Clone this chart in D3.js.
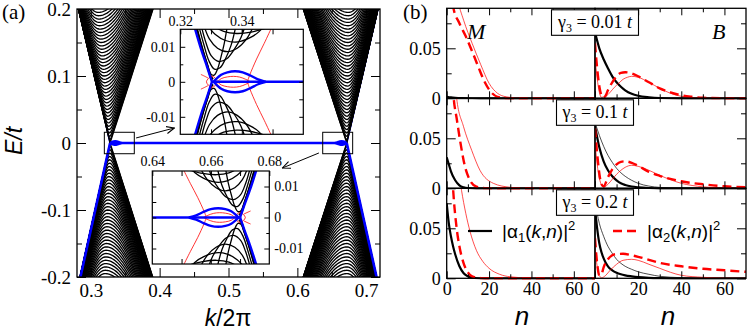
<!DOCTYPE html>
<html>
<head>
<meta charset="utf-8">
<script src="https://cdn.jsdelivr.net/npm/d3@7"></script>
<style>
  body { margin: 0; background: #fff; }
  svg { display: block; }
</style>
</head>
<body>
<svg id="fig" width="747" height="331"></svg>
<script>
// ---------------- panel (a) data ----------------
const kMajor = [0.3, 0.4, 0.5, 0.6, 0.7];
const kMinor = [0.35, 0.45, 0.55, 0.65];
const eMajor = [-0.2, -0.1, 0, 0.1, 0.2];
const eMinor = [-0.15, -0.05, 0.05, 0.15];

// |E| of the bulk sub-band extrema
const subbandE = [0.000, 0.005, 0.010, 0.015, 0.020, 0.025, 0.030, 0.035, 0.040, 0.045,
                  0.050, 0.055, 0.060, 0.065, 0.070, 0.075, 0.080, 0.085, 0.090, 0.095,
                  0.100, 0.105, 0.110, 0.115, 0.120, 0.125, 0.130, 0.135, 0.140, 0.145,
                  0.150, 0.155, 0.160, 0.165, 0.170, 0.175, 0.180, 0.185, 0.190, 0.195];
// four half-fans: upper-left, lower-left, upper-right, lower-right
const fanSide    = [1, -1, 1, -1];
const fanVertexK = [0.328, 0.328, 0.6717, 0.6717];
const fanOuterK  = [0.2855, 0.2850, 0.7170, 0.7150];
const fanInnerK  = [0.3904, 0.3899, 0.6086, 0.6086];
const fanLocusK  = [0.3105, 0.3207, 0.674, 0.672];

const zoomBoxK = [[0.3197, 0.3632], [0.6368, 0.6803]];
const zoomBoxE = [-0.016, 0.016];
const arrowFrom = [[0.3658, 0.0075], [0.6313, -0.0149]];
const arrowTo   = [[0.4214, 0.0224], [0.5783, -0.0373]];

// inset curves: [ (k-K)*1000 , E*1000 ], upper halves (lower halves mirrored)
const insetBands = [
  [[-5.0,16],[-3.2,10],[-1.5,5],[-0.3,2.2],[0.7,1.9],[1.8,3.6],[2.9,7],[4.0,11],[5.0,16]],
  [[-4.3,16],[-2.6,10.5],[-1.0,6],[0.8,3.6],[2.6,4.0],[4.4,6.6],[6.2,10.4],[7.8,16]],
  [[-3.5,16],[-1.9,11],[-0.2,7.4],[2.2,5.8],[4.8,6.6],[7.2,9.2],[9.4,12.6],[10.8,16]],
  [[-2.6,16],[-0.8,12.2],[1.8,9.6],[5,8.6],[8.2,9.6],[11.2,12.2],[13.6,16]],
  [[-1.4,16],[1.0,13.6],[4.4,11.8],[8.4,11.4],[12.4,12.6],[15.4,14.4],[16.8,16]],
  [[0.4,16],[3.8,14.4],[8,13.8],[12.8,14.2],[17,15.2],[19.6,16]]
];
const insetBandEdge = [[-5.3,16],[-3.3,9.6],[-1.5,4.6],[-0.5,1.7],[0.3,0.7]];
const insetBlueBranch = [[-5.8,16],[-3.5,9.2],[-1.6,4.3],[-0.5,1.3],[0,0]];
const insetBlueEye = [[0.5,0],[1.5,0.9],[3,2.0],[5,2.7],[7.5,3.0],[10,2.7],[12.5,1.8],[15,0.7],[17.5,0]];
const insetRedRing = [[-1.8,0],[0,1.6],[1.8,0],[0,-1.6]];
const insetRedStub = [[-1.3,1.1],[-2.4,1.6],[-3.6,2.1]];
const insetRedEye = [[1.8,0],[3,0.9],[5,1.4],[7,1.55],[9,1.35],[11,0.7],[12.5,0]];
const insetRedArm = [[11.5,0],[12.3,2],[14.5,6.5],[17,11],[19.4,15.5]];

// ---------------- panel (b) data ----------------
const nMajor = [0, 20, 40, 60], nMinor = [10, 30, 50];
const gammaLabels = ['0.01', '0.1', '0.2'];
// [n, |alpha|^2]; M = left column, B = right column; r1..r3 = gamma3 rows
const M_a1_r1 = [[0,0.0016],[2,0.0009],[4,0.0005],[7,0.0002],[12,0.00005],[20,0],[70,0]];
const M_a2_r1 = [[0,0.15],[1.5,0.115],[3,0.092],[6,0.075],[9,0.062],[12,0.047],[15,0.031],[18,0.016],[21,0.006],[24,0.0015],[28,0.0002],[35,0],[70,0]];
const M_a2t_r1 = [[2,0.14],[5,0.1],[8,0.078],[12,0.055],[16,0.034],[20,0.015],[24,0.005],[28,0.0015],[34,0.0002],[40,0],[70,0]];
const B_a1_r1 = [[0,0.066],[2,0.05],[4,0.039],[6,0.03],[8,0.022],[10,0.016],[12,0.0115],[14,0.008],[17,0.0045],[20,0.0025],[25,0.001],[30,0.0003],[40,0],[70,0]];
const B_a2_r1 = [[0,0.055],[1,0.03],[2,0.012],[3,0.003],[4,0.0008],[5,0.003],[6,0.008],[8,0.016],[10,0.022],[12,0.0255],[14,0.026],[17,0.025],[20,0.022],[25,0.016],[30,0.01],[35,0.006],[40,0.003],[45,0.0015],[50,0.0006],[60,0.0001],[70,0]];
const B_a2t_r1 = [[0,0.04],[1,0.02],[2,0.006],[3,0.001],[5,0.002],[7,0.006],[9,0.011],[11,0.015],[13,0.019],[15,0.021],[17,0.022],[20,0.021],[25,0.016],[30,0.01],[35,0.005],[40,0.002],[50,0.0003],[70,0]];

const M_a1_r2 = [[0,0.031],[1,0.024],[2,0.017],[4,0.008],[6,0.003],[8,0.001],[10,0.0003],[14,0],[70,0]];
const M_a2_r2 = [[0,0.2],[2,0.13],[3.4,0.088],[4.7,0.07],[6.3,0.048],[8.6,0.022],[11,0.008],[14,0.0017],[18,0.0002],[25,0],[70,0]];
const M_a2t_r2 = [[3,0.13],[4.7,0.09],[7.9,0.062],[11.8,0.038],[15.7,0.018],[22,0.005],[30,0.001],[38,0],[70,0]];
const B_a1_r2 = [[0,0.062],[2,0.041],[4,0.027],[6,0.018],[8,0.012],[10,0.008],[12,0.005],[14,0.0033],[17,0.0018],[20,0.001],[25,0.0003],[30,0],[70,0]];
const B_a1t_r2 = [[0,0.066],[2,0.053],[4,0.042],[6,0.033],[8,0.026],[10,0.02],[12,0.0155],[14,0.012],[17,0.008],[20,0.005],[25,0.0022],[30,0.0009],[40,0.0001],[70,0]];
const B_a2_r2 = [[0,0.06],[1,0.035],[2,0.015],[3,0.004],[4,0.002],[6,0.011],[8,0.019],[10,0.024],[12,0.0265],[14,0.027],[17,0.0255],[20,0.0225],[25,0.0165],[30,0.0125],[40,0.007],[50,0.004],[60,0.002],[70,0.001]];
const B_a2t_r2 = [[0,0.045],[2,0.01],[4,0.001],[6,0.004],[8,0.009],[10,0.014],[12,0.018],[14,0.021],[17,0.023],[20,0.022],[25,0.018],[30,0.013],[40,0.005],[50,0.0015],[60,0.0003],[70,0]];

const M_a1_r3 = [[0,0.075],[1,0.055],[2,0.042],[3,0.032],[4,0.024],[6,0.012],[8,0.005],[10,0.002],[13,0.0003],[18,0],[70,0]];
const M_a2_r3 = [[0,0.2],[2,0.13],[3,0.09],[4.7,0.05],[6,0.032],[8,0.015],[10,0.006],[12,0.002],[16,0.0002],[22,0],[70,0]];
const M_a2t_r3 = [[4,0.14],[5.5,0.11],[7,0.088],[9,0.065],[11,0.047],[14,0.028],[17,0.017],[20,0.01],[25,0.004],[30,0.0015],[40,0.0002],[70,0]];
const B_a1_r3 = [[0,0.07],[1,0.05],[2,0.035],[3,0.026],[4,0.02],[6,0.012],[8,0.008],[10,0.0055],[12,0.004],[14,0.003],[17,0.002],[20,0.0012],[25,0.0005],[30,0.0002],[40,0],[70,0]];
const B_a1t_r3 = [[0,0.076],[2,0.055],[4,0.042],[6,0.032],[8,0.025],[10,0.019],[12,0.015],[14,0.012],[17,0.009],[20,0.0065],[25,0.004],[30,0.002],[40,0.0006],[50,0.0001],[70,0]];
const B_a2_r3 = [[0,0.04],[1,0.015],[2,0.003],[3,0.004],[4,0.011],[6,0.019],[8,0.023],[10,0.0243],[13,0.0245],[17,0.023],[20,0.0215],[25,0.0185],[30,0.0155],[40,0.012],[50,0.0095],[60,0.008],[70,0.0065]];
const B_a2t_r3 = [[0,0.03],[1,0.012],[2,0.003],[3,0.0005],[5,0.003],[7,0.008],[10,0.014],[13,0.018],[17,0.019],[20,0.018],[25,0.014],[30,0.01],[35,0.006],[40,0.003],[50,0.001],[60,0.0002],[70,0]];

// ---------------- helpers ----------------
const svg = d3.select('#fig');
const BLUE = '#0000ff', RED = '#ff0000';
const SERIF = 'Liberation Serif', SANS = 'Liberation Sans';
const fmt = d => d === 0 ? '0' : String(+d.toFixed(4));

function axis(g, ax, size, family) {
  g.call(ax);
  g.attr('font-size', size).attr('font-family', family);
  g.select('.domain').remove();
  g.selectAll('line').attr('stroke', '#000').attr('stroke-width', 1);
  g.selectAll('text').attr('fill', '#000');
  return g;
}

const defs = svg.append('defs');
defs.append('marker').attr('id', 'arr').attr('viewBox', '0 0 10 10')
  .attr('refX', 9).attr('refY', 5).attr('markerWidth', 9).attr('markerHeight', 9)
  .attr('markerUnits', 'userSpaceOnUse').attr('orient', 'auto')
  .append('path').attr('d', 'M0,1 L9,5 L0,9').attr('fill', 'none').attr('stroke', '#000').attr('stroke-width', 1.2);

// ================= panel (a) =================
const xa = d3.scaleLinear().domain([0.28, 0.72]).range([77, 380]);
const ya = d3.scaleLinear().domain([-0.2, 0.2]).range([277, 9]);
defs.append('clipPath').attr('id', 'clipA').append('rect')
  .attr('x', 77).attr('y', 9).attr('width', 303).attr('height', 268);
const plotA = svg.append('g').attr('clip-path', 'url(#clipA)');
const lineA = d3.line().x(d => xa(d[0])).y(d => ya(d[1]));

// blue edge states under the upper fans
fanSide.forEach((s, i) => {
  if (s > 0) plotA.append('path').attr('d', lineA([[fanVertexK[i], 0], [fanOuterK[i], 0.2]]))
    .attr('stroke', BLUE).attr('stroke-width', 1.6).attr('fill', 'none');
});
// bulk sub-bands: each one a hyperbola-like branch pair with its extremum at subbandE,
// extremum drifting along the chevron line and arms parallel to the cone edges
const EMAX = 0.21;
fanSide.forEach((s, i) => {
  const v = fanVertexK[i];
  const dOut = Math.sign(fanOuterK[i] - v);
  const sOut = Math.abs(fanOuterK[i] - v) / 0.2, sIn = Math.abs(fanInnerK[i] - v) / 0.2;
  const drift = (fanLocusK[i] - v) / 0.2;
  subbandE.forEach(D => {
    const kc = v + drift * D;
    const arm = (sl, sg) => d3.range(0, 19).map(j => {
      const E = D + (EMAX - D) * (j / 18) ** 2;
      return [kc + sg * sl * Math.sqrt(Math.max(E * E - D * D, 0)), s * E];
    });
    const pts = arm(sOut, dOut).reverse().concat(arm(sIn, -dOut).slice(1));
    plotA.append('path').attr('d', lineA(pts)).attr('fill', 'none')
      .attr('stroke', '#000').attr('stroke-width', 1.35);
  });
});
// blue edge states on top of the lower fans, flat band, small loops
fanSide.forEach((s, i) => {
  if (s < 0) plotA.append('path').attr('d', lineA([[fanVertexK[i], 0], [fanOuterK[i], -0.2]]))
    .attr('stroke', BLUE).attr('stroke-width', 2.6).attr('fill', 'none');
});
plotA.append('path').attr('d', lineA([[fanVertexK[0], 0], [fanVertexK[2], 0]]))
  .attr('stroke', BLUE).attr('stroke-width', 2.6).attr('fill', 'none');
const eyeA = d3.line().curve(d3.curveCatmullRom);
[[fanVertexK[0], 1], [fanVertexK[2], -1]].forEach(([K, dir]) => {
  [1, -1].forEach(s => {
    eyeA.x(d => xa(K + dir * d[0] * 1e-3)).y(d => ya(s * d[1] * 1e-3));
    plotA.append('path').attr('d', eyeA(insetBlueEye)).attr('fill', 'none')
      .attr('stroke', BLUE).attr('stroke-width', 2);
  });
});
// zoom boxes
zoomBoxK.forEach(b => {
  svg.append('rect').attr('x', xa(b[0])).attr('y', ya(zoomBoxE[1]))
    .attr('width', xa(b[1]) - xa(b[0])).attr('height', ya(zoomBoxE[0]) - ya(zoomBoxE[1]))
    .attr('fill', 'none').attr('stroke', '#000').attr('stroke-width', 1);
});
// frame and axes
svg.append('rect').attr('x', 77).attr('y', 9).attr('width', 303).attr('height', 268)
  .attr('fill', 'none').attr('stroke', '#000').attr('stroke-width', 1.3);
axis(svg.append('g').attr('transform', 'translate(0,277)'),
  d3.axisBottom(xa).tickValues(kMajor).tickSize(-9).tickPadding(7).tickFormat(fmt), 19, SERIF);
axis(svg.append('g').attr('transform', 'translate(0,277)'),
  d3.axisBottom(xa).tickValues(kMinor).tickSize(-5).tickFormat(''), 19, SERIF);
axis(svg.append('g').attr('transform', 'translate(0,9)'),
  d3.axisTop(xa).tickValues(kMajor).tickSize(-9).tickFormat(''), 19, SERIF);
axis(svg.append('g').attr('transform', 'translate(0,9)'),
  d3.axisTop(xa).tickValues(kMinor).tickSize(-5).tickFormat(''), 19, SERIF);
axis(svg.append('g').attr('transform', 'translate(77,0)'),
  d3.axisLeft(ya).tickValues(eMajor).tickSize(-9).tickPadding(6).tickFormat(fmt), 19, SERIF);
axis(svg.append('g').attr('transform', 'translate(77,0)'),
  d3.axisLeft(ya).tickValues(eMinor).tickSize(-5).tickFormat(''), 19, SERIF);
axis(svg.append('g').attr('transform', 'translate(380,0)'),
  d3.axisRight(ya).tickValues(eMajor).tickSize(-9).tickFormat(''), 19, SERIF);
axis(svg.append('g').attr('transform', 'translate(380,0)'),
  d3.axisRight(ya).tickValues(eMinor).tickSize(-5).tickFormat(''), 19, SERIF);

// ---------- insets ----------
function inset(o) {
  const sx = d3.scaleLinear().domain(o.kDom).range(o.xr);
  const sy = d3.scaleLinear().domain([-0.015, 0.015]).range(o.yr);
  const w = o.xr[1] - o.xr[0], h = o.yr[0] - o.yr[1];
  defs.append('clipPath').attr('id', o.id).append('rect')
    .attr('x', o.xr[0]).attr('y', o.yr[1]).attr('width', w).attr('height', h);
  const g = svg.append('g');
  g.append('rect').attr('x', o.xr[0]).attr('y', o.yr[1]).attr('width', w).attr('height', h).attr('fill', '#fff');
  const p = g.append('g').attr('clip-path', `url(#${o.id})`);
  const mk = (s, curve) => d3.line().curve(curve || d3.curveCatmullRom)
    .x(d => sx(o.K + o.dir * d[0] * 1e-3)).y(d => sy(s * d[1] * 1e-3));
  const draw = (data, s, color, width, curve) => p.append('path').attr('d', mk(s, curve)(data))
    .attr('fill', 'none').attr('stroke', color).attr('stroke-width', width);
  [1, -1].forEach(s => {
    insetBands.forEach(b => draw(b, s, '#000', 1.3));
    draw(insetBandEdge, s, '#000', 2.2);
  });
  [1, -1].forEach(s => {
    draw(insetRedStub, s, RED, 0.8);
    draw(insetRedEye, s, RED, 0.8);
    draw(insetRedArm, s, RED, 0.8);
  });
  draw(insetRedRing, 1, RED, 0.8, d3.curveCatmullRomClosed);
  [1, -1].forEach(s => {
    draw(insetBlueBranch, s, BLUE, 2.4);
    draw(insetBlueEye, s, BLUE, 2.4);
  });
  draw([[0, 0], [40, 0]], 1, BLUE, 2.6, d3.curveLinear);
  g.append('rect').attr('x', o.xr[0]).attr('y', o.yr[1]).attr('width', w).attr('height', h)
    .attr('fill', 'none').attr('stroke', '#000').attr('stroke-width', 1.2);
  const kAll = o.kTicks;
  axis(g.append('g').attr('transform', `translate(0,${o.yr[1]})`),
    d3.axisTop(sx).tickValues(o.kLabels).tickSize(-5).tickPadding(o.topPad).tickFormat(fmt), 14, SERIF);
  axis(g.append('g').attr('transform', `translate(0,${o.yr[1]})`),
    d3.axisTop(sx).tickValues(kAll).tickSize(-5).tickFormat(''), 14, SERIF);
  axis(g.append('g').attr('transform', `translate(0,${o.yr[0]})`),
    d3.axisBottom(sx).tickValues(kAll).tickSize(-5).tickFormat(''), 14, SERIF);
  const eLab = [-0.01, 0, 0.01], eMin = [-0.005, 0.005];
  const labAx = o.labelRight ? d3.axisRight : d3.axisLeft;
  const othAx = o.labelRight ? d3.axisLeft : d3.axisRight;
  const xl = o.labelRight ? o.xr[1] : o.xr[0], xo = o.labelRight ? o.xr[0] : o.xr[1];
  axis(g.append('g').attr('transform', `translate(${xl},0)`),
    labAx(sy).tickValues(eLab).tickSize(-5).tickPadding(5).tickFormat(fmt), 14, SERIF);
  axis(g.append('g').attr('transform', `translate(${xl},0)`),
    labAx(sy).tickValues(eMin).tickSize(-3).tickFormat(''), 14, SERIF);
  axis(g.append('g').attr('transform', `translate(${xo},0)`),
    othAx(sy).tickValues(eLab.concat(eMin)).tickSize(-4).tickFormat(''), 14, SERIF);
}
inset({ id: 'clipI1', xr: [180.3, 303.3], yr: [134.3, 29.3], kDom: [0.32, 0.36], K: 0.3303, dir: 1,
        kLabels: [0.32, 0.34], kTicks: [0.33, 0.34, 0.35], topPad: 3, labelRight: false });
inset({ id: 'clipI2', xr: [152.3, 269.3], yr: [264, 171], kDom: [0.64, 0.68], K: 0.670, dir: -1,
        kLabels: [0.64, 0.66, 0.68], kTicks: [0.65, 0.66, 0.67], topPad: 5, labelRight: true });

// arrows
arrowFrom.forEach((a, i) => {
  svg.append('line').attr('x1', xa(a[0])).attr('y1', ya(a[1]))
    .attr('x2', xa(arrowTo[i][0])).attr('y2', ya(arrowTo[i][1]))
    .attr('stroke', '#000').attr('stroke-width', 1).attr('marker-end', 'url(#arr)');
});

// labels (a)
svg.append('text').attr('x', 2).attr('y', 19).attr('font-family', SERIF).attr('font-size', 21).text('(a)');
svg.append('text').attr('transform', 'translate(22,141) rotate(-90)').attr('text-anchor', 'middle')
  .attr('font-family', SANS).attr('font-size', 23).attr('font-style', 'italic').text('E/t');
const kl = svg.append('text').attr('x', 228).attr('y', 326).attr('text-anchor', 'middle')
  .attr('font-family', SANS).attr('font-size', 23);
kl.append('tspan').attr('font-style', 'italic').text('k');
kl.append('tspan').text('/2π');

// ================= panel (b) =================
const colX = [[446.7, 595], [595, 746]];
const rowY = [[8.3, 98.3], [98.3, 188.3], [188.3, 278.3]];
const panelSeries = [
  [[M_a1_r1, null, M_a2_r1, M_a2t_r1], [B_a1_r1, null, B_a2_r1, B_a2t_r1]],
  [[M_a1_r2, null, M_a2_r2, M_a2t_r2], [B_a1_r2, B_a1t_r2, B_a2_r2, B_a2t_r2]],
  [[M_a1_r3, null, M_a2_r3, M_a2t_r3], [B_a1_r3, B_a1t_r3, B_a2_r3, B_a2t_r3]]
];
const seriesStyle = [
  { c: '#000', w: 2.2, dash: null },
  { c: '#000', w: 0.7, dash: null },
  { c: RED, w: 2.4, dash: '9,5' },
  { c: RED, w: 0.7, dash: null }
];
rowY.forEach((ry, r) => {
  colX.forEach((cx, c) => {
    const sx = d3.scaleLinear().domain([0, 70]).range(cx);
    const sy = d3.scaleLinear().domain([0, 0.09]).range([ry[1], ry[0]]);
    const id = `clipB${r}${c}`;
    defs.append('clipPath').attr('id', id).append('rect')
      .attr('x', cx[0]).attr('y', ry[0]).attr('width', cx[1] - cx[0]).attr('height', ry[1] - ry[0] + 1.5);
    const p = svg.append('g').attr('clip-path', `url(#${id})`);
    const ln = d3.line().curve(d3.curveMonotoneX).x(d => sx(d[0])).y(d => sy(d[1]));
    panelSeries[r][c].forEach((data, j) => {
      if (!data) return;
      const st = seriesStyle[j];
      p.append('path').attr('d', ln(data)).attr('fill', 'none').attr('stroke', st.c)
        .attr('stroke-width', st.w).attr('stroke-dasharray', st.dash);
    });
    svg.append('rect').attr('x', cx[0]).attr('y', ry[0]).attr('width', cx[1] - cx[0]).attr('height', ry[1] - ry[0])
      .attr('fill', 'none').attr('stroke', '#000').attr('stroke-width', 1.3);
    axis(svg.append('g').attr('transform', `translate(0,${ry[1]})`),
      d3.axisBottom(sx).tickValues(nMajor).tickSize(-7).tickPadding(4).tickFormat(r === 2 ? fmt : ''), 18, SERIF);
    axis(svg.append('g').attr('transform', `translate(0,${ry[1]})`),
      d3.axisBottom(sx).tickValues(nMinor).tickSize(-4).tickFormat(''), 18, SERIF);
    axis(svg.append('g').attr('transform', `translate(0,${ry[0]})`),
      d3.axisTop(sx).tickValues(nMajor).tickSize(-7).tickFormat(''), 18, SERIF);
    axis(svg.append('g').attr('transform', `translate(0,${ry[0]})`),
      d3.axisTop(sx).tickValues(nMinor).tickSize(-4).tickFormat(''), 18, SERIF);
    const side = c === 0 ? d3.axisLeft : d3.axisRight;
    const xe = c === 0 ? cx[0] : cx[1];
    axis(svg.append('g').attr('transform', `translate(${xe},0)`),
      side(sy).tickValues([0, 0.05]).tickSize(-9).tickPadding(6).tickFormat(c === 0 ? fmt : ''), 18, SERIF);
    axis(svg.append('g').attr('transform', `translate(${xe},0)`),
      side(sy).tickValues([0.025, 0.075]).tickSize(-5).tickFormat(''), 18, SERIF);
  });
  // gamma label box
  const bw = r === 0 ? 87 : 77;
  svg.append('rect').attr('x', 595 - bw / 2).attr('y', ry[0] + 1.5).attr('width', bw).attr('height', 25.5)
    .attr('fill', '#fff').attr('stroke', '#000').attr('stroke-width', 1.1);
  const t = svg.append('text').attr('x', 595).attr('y', ry[0] + 20).attr('text-anchor', 'middle')
    .attr('font-family', SERIF).attr('font-size', 18);
  t.append('tspan').text('γ');
  t.append('tspan').attr('font-size', 12).attr('dy', 4).text('3');
  t.append('tspan').attr('dy', -4).text(' = ' + gammaLabels[r] + ' ');
  t.append('tspan').attr('font-style', 'italic').text('t');
});
svg.append('text').attr('x', 403).attr('y', 19).attr('font-family', SERIF).attr('font-size', 21).text('(b)');
svg.append('text').attr('x', 467).attr('y', 39).attr('font-family', SERIF).attr('font-size', 22)
  .attr('font-style', 'italic').text('M');
svg.append('text').attr('x', 712).attr('y', 39).attr('font-family', SERIF).attr('font-size', 22)
  .attr('font-style', 'italic').text('B');
[['n', 522], ['n', 668]].forEach(([s, xx]) => {
  svg.append('text').attr('x', xx).attr('y', 325).attr('text-anchor', 'middle')
    .attr('font-family', SANS).attr('font-size', 26).attr('font-style', 'italic').text(s);
});

// legend
const legend = [{ x: 468, st: seriesStyle[0], idx: '1' }, { x: 613, st: seriesStyle[2], idx: '2' }];
legend.forEach(L => {
  svg.append('line').attr('x1', L.x).attr('x2', L.x + 24).attr('y1', 231).attr('y2', 231)
    .attr('stroke', L.st.c).attr('stroke-width', L.st.w).attr('stroke-dasharray', L.st.dash);
  const t = svg.append('text').attr('x', L.x + 34).attr('y', 238).attr('font-family', SANS).attr('font-size', 19);
  t.append('tspan').text('|α');
  t.append('tspan').attr('font-size', 13).attr('dy', 4).text(L.idx);
  t.append('tspan').attr('dy', -4).text('(');
  t.append('tspan').attr('font-style', 'italic').text('k');
  t.append('tspan').text(',');
  t.append('tspan').attr('font-style', 'italic').text('n');
  t.append('tspan').text(')|');
  t.append('tspan').attr('font-size', 13).attr('dy', -8).text('2');
});
</script>
</body>
</html>
